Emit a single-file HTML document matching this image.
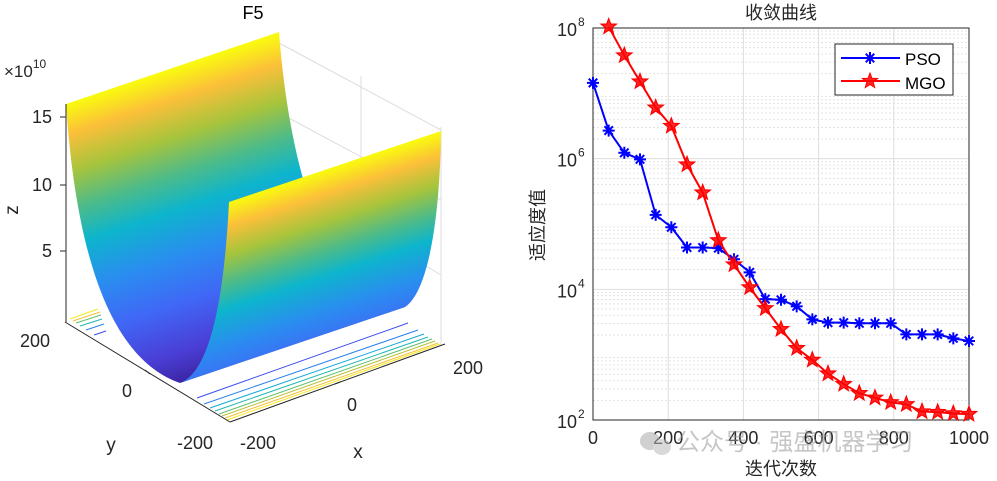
<!DOCTYPE html>
<html><head><meta charset="utf-8"><style>
html,body{margin:0;padding:0;background:#fff;}
svg{display:block;font-family:"Liberation Sans","Noto Sans CJK SC",sans-serif;}
</style></head><body>
<svg width="997" height="481" viewBox="0 0 997 481">
<defs>
<linearGradient id="gl" gradientUnits="userSpaceOnUse" x1="66" y1="104" x2="161" y2="389">
<stop offset="0" stop-color="#f9fb0e"/><stop offset="0.1" stop-color="#fbbf3a"/><stop offset="0.22" stop-color="#a6c43c"/><stop offset="0.34" stop-color="#4cbb8a"/><stop offset="0.45" stop-color="#0db5cc"/><stop offset="0.6" stop-color="#2a8df0"/><stop offset="0.75" stop-color="#4067f6"/><stop offset="0.9" stop-color="#4a3fd6"/><stop offset="1" stop-color="#3d26a6"/>
</linearGradient>
<linearGradient id="gr" gradientUnits="userSpaceOnUse" x1="229" y1="202" x2="290" y2="385">
<stop offset="0" stop-color="#f9fb0e"/><stop offset="0.12" stop-color="#fbbf3a"/><stop offset="0.26" stop-color="#a6c43c"/><stop offset="0.4" stop-color="#4cbb8a"/><stop offset="0.52" stop-color="#0db5cc"/><stop offset="0.7" stop-color="#2a8df0"/><stop offset="0.88" stop-color="#4067f6"/><stop offset="1" stop-color="#4a40dc"/>
</linearGradient>
</defs>

<!-- LEFT 3D PLOT -->
<g>
<text x="253" y="19" font-size="18" text-anchor="middle">F5</text>
<g stroke="#dcdcdc" stroke-width="1" fill="none">
<line x1="279" y1="43" x2="441" y2="130"/>
<line x1="361" y1="76" x2="361" y2="305"/>
<line x1="441" y1="127" x2="441" y2="345"/>
<line x1="287" y1="117" x2="441" y2="200"/>
<line x1="290" y1="185" x2="441" y2="275"/>
<line x1="280" y1="250" x2="361" y2="305"/>
</g>
<g fill="none" stroke-width="1">
<line x1="197" y1="398" x2="408" y2="323" stroke="#3b4cf0"/>
<line x1="204" y1="404" x2="418" y2="330" stroke="#2a80f0"/>
<line x1="210" y1="408" x2="424" y2="334" stroke="#14a8d8"/>
<line x1="215" y1="411" x2="428" y2="337" stroke="#20b8b0"/>
<line x1="219" y1="414" x2="432" y2="339" stroke="#60c070"/>
<line x1="222" y1="416" x2="435" y2="341" stroke="#b8c030"/>
<line x1="225" y1="418" x2="438" y2="343" stroke="#f8c038"/>
<line x1="227" y1="420" x2="440" y2="344" stroke="#f4e820"/>
<line x1="70" y1="319" x2="98" y2="309" stroke="#f4e820"/>
<line x1="73" y1="321" x2="100" y2="312" stroke="#f8c038"/>
<line x1="76" y1="323" x2="101" y2="315" stroke="#60c070"/>
<line x1="80" y1="326" x2="102" y2="319" stroke="#20b8b0"/>
<line x1="86" y1="330" x2="104" y2="324" stroke="#2a80f0"/>
<line x1="94" y1="335" x2="106" y2="331" stroke="#3b4cf0"/>
</g>
<path d="M66,104 L279,32 C288,150 320,300 405,307 L180,383 C120,362 78,280 66,104 Z" fill="url(#gl)"/>
<path d="M180,383 C210,372 224,300 229,202 L441,131 C440,220 428,292 405,307 Z" fill="url(#gr)"/>
<g stroke="#262626" stroke-width="1" fill="none">
<line x1="66" y1="104" x2="66" y2="322"/>
<line x1="65" y1="322" x2="230" y2="422"/>
<line x1="230" y1="422" x2="445" y2="344"/>
<line x1="60" y1="117" x2="66" y2="117"/><line x1="60" y1="185" x2="66" y2="185"/><line x1="60" y1="251" x2="66" y2="251"/>
<line x1="145" y1="370" x2="150" y2="374"/><line x1="340" y1="382" x2="335" y2="384"/>
</g>
<g font-size="18" fill="#262626">
<text x="52" y="123" text-anchor="end">15</text>
<text x="52" y="191" text-anchor="end">10</text>
<text x="52" y="257" text-anchor="end">5</text>
<text x="4" y="77" font-size="17">×10<tspan font-size="12" dy="-9">10</tspan></text>
<text x="50" y="347" text-anchor="end">200</text>
<text x="127" y="397" text-anchor="middle">0</text>
<text x="213" y="449" text-anchor="end">-200</text>
<text x="240" y="449">-200</text>
<text x="352" y="411" text-anchor="middle">0</text>
<text x="453" y="374">200</text>
</g>
<text x="111" y="451" font-size="19" text-anchor="middle" fill="#262626">y</text>
<text x="358" y="458" font-size="19" text-anchor="middle" fill="#262626">x</text>
<text x="0" y="0" font-size="19" text-anchor="middle" fill="#262626" transform="translate(18,210) rotate(-90)">z</text>
</g>

<!-- RIGHT CHART -->
<g id="conv"></g>
<g opacity="0.55">
<ellipse cx="650" cy="441" rx="10" ry="9" fill="#aaa"/><ellipse cx="662" cy="447" rx="9" ry="8" fill="#bbb"/>
<text x="676" y="450" font-size="24" fill="#999">公众号 · 强盛机器学习</text>
</g>

<script>
const iters = [0,41.7,83.3,125,166.7,208.3,250,291.7,333.3,375,416.7,458.3,500,541.7,583.3,625,666.7,708.3,750,791.7,833.3,875,916.7,958.3,1000];
const psoLog = [7.16,6.43,6.09,5.99,5.14,4.95,4.64,4.64,4.63,4.46,4.26,3.85,3.84,3.74,3.54,3.49,3.49,3.48,3.48,3.48,3.31,3.31,3.31,3.25,3.21];
const mgoIters = [41.7,83.3,125,166.7,208.3,250,291.7,333.3,375,416.7,458.3,500,541.7,583.3,625,666.7,708.3,750,791.7,833.3,875,916.7,958.3,1000];
const mgoLog = [8.02,7.58,7.18,6.78,6.50,5.91,5.48,4.75,4.38,4.03,3.71,3.39,3.10,2.92,2.71,2.55,2.41,2.34,2.27,2.24,2.13,2.12,2.10,2.09];
const xTicks = [0,200,400,600,800,1000];
const yTicks = [2,4,6,8];

const NS="http://www.w3.org/2000/svg";
const L=593,R=969,T=28,B=420;
const sx=v=>L+(v-0)/1000*(R-L);
const sy=v=>B-(v-2)/6*(B-T);
const g=document.getElementById('conv');
function mk(tag,attrs,parent){const e=document.createElementNS(NS,tag);for(const k in attrs)e.setAttribute(k,attrs[k]);(parent||g).appendChild(e);return e;}

for(let d=2;d<8;d++){for(let m=2;m<=9;m++){const y=sy(d+Math.log10(m));
const l=mk('line',{x1:L,x2:R,y1:y,y2:y,stroke:'#e3e3e3','stroke-dasharray':'2,2','stroke-width':1});

}}
xTicks.forEach(t=>{const x=sx(t);
const l=mk('line',{x1:x,x2:x,y1:T,y2:B,stroke:'#dedede','stroke-width':1});


const tx=mk('text',{x:x,y:B+24,'font-size':18,'text-anchor':'middle',fill:'#262626'});tx.textContent=t;

});
yTicks.forEach(t=>{const y=sy(t);
const l=mk('line',{x1:L,x2:R,y1:y,y2:y,stroke:'#dedede','stroke-width':1});


const tx=mk('text',{x:L-16,y:y+8,'font-size':18,'text-anchor':'end',fill:'#262626'});
tx.textContent='10';


const sp=mk('text',{x:L-15,y:y-2,'font-size':12,fill:'#262626'});
sp.textContent=String(t);

});
const box=mk('rect',{x:L,y:T,width:R-L,height:B-T,fill:'none',stroke:'#262626','stroke-width':1});



function star(cx,cy,r){let p='';for(let i=0;i<10;i++){const a=-Math.PI/2+i*Math.PI/5;const rr=i%2?r*0.42:r;p+=(i?'L':'M')+(cx+rr*Math.cos(a)).toFixed(1)+','+(cy+rr*Math.sin(a)).toFixed(1);}return p+'Z';}
function asterisk(cx,cy,r){let p='';for(let i=0;i<4;i++){const a=i*Math.PI/4;p+='M'+(cx-r*Math.cos(a))+','+(cy-r*Math.sin(a))+'L'+(cx+r*Math.cos(a))+','+(cy+r*Math.sin(a));}return p;}

const pl=mk('polyline',{points:iters.map((v,i)=>sx(v)+','+sy(psoLog[i])).join(' '),fill:'none',stroke:'#0000ff','stroke-width':2});


iters.forEach((v,i)=>{const m=mk('path',{d:asterisk(sx(v),sy(psoLog[i]),6),stroke:'#0000ff','stroke-width':2,fill:'none'});

});
const ml=mk('polyline',{points:mgoIters.map((v,i)=>sx(v)+','+sy(mgoLog[i])).join(' '),fill:'none',stroke:'#ff0000','stroke-width':2});


mgoIters.forEach((v,i)=>{const m=mk('path',{d:star(sx(v),sy(mgoLog[i]),8),stroke:'#ff0000','stroke-width':1.2,fill:'#ff0000','fill-opacity':0.85});

});

const tt=mk('text',{x:781,y:19,'font-size':18,'text-anchor':'middle',fill:'#262626'});tt.textContent='收敛曲线';


const xl=mk('text',{x:781,y:475,'font-size':18,'text-anchor':'middle',fill:'#262626'});xl.textContent='迭代次数';


const yl=mk('text',{x:0,y:0,'font-size':18,'text-anchor':'middle',fill:'#262626',transform:'translate(544,225) rotate(-90)'});yl.textContent='适应度值';



const lg=mk('g',{});


mk('rect',{x:835,y:44,width:118,height:51,fill:'#fff',stroke:'#262626','stroke-width':1},lg);
mk('line',{x1:841,x2:900,y1:58,y2:58,stroke:'#0000ff','stroke-width':2},lg);
mk('path',{d:asterisk(870,58,6),stroke:'#0000ff','stroke-width':2},lg);
mk('line',{x1:841,x2:900,y1:81,y2:81,stroke:'#ff0000','stroke-width':2},lg);
mk('path',{d:star(870,81,8),stroke:'#ff0000',fill:'#ff0000','fill-opacity':0.85},lg);
const t1=mk('text',{x:905,y:65,'font-size':17,fill:'#000'},lg);t1.textContent='PSO';


const t2=mk('text',{x:905,y:89,'font-size':17,fill:'#000'},lg);t2.textContent='MGO';


</script>
</svg>
</body></html>
